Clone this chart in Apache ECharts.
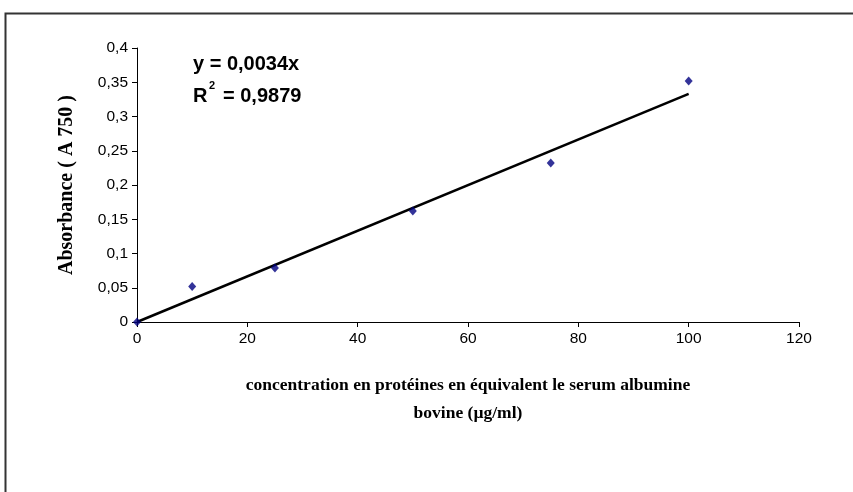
<!DOCTYPE html>
<html>
<head>
<meta charset="utf-8">
<script src="https://cdn.jsdelivr.net/npm/echarts@6/dist/echarts.min.js"></script>
<style>
  html, body { margin: 0; padding: 0; background: #fff; }
  #chart { width: 853px; height: 492px; }
</style>
</head>
<body>
<div id="chart"></div>
<script>
// measured points
var concX = [0, 10, 25, 50, 75, 100];
var absY = [0, 0.052, 0.079, 0.162, 0.232, 0.352];
// linear trendline endpoints (through origin)
var trendX = [0, 100];
var trendY = [0, 0.333];

var fmtComma = function (v) {
    return String(v).replace('.', ',');
};

var chart = echarts.init(document.getElementById('chart'));
var option = {
    backgroundColor: '#fff',
    animation: false,
    grid: { left: 137, right: 54, top: 48, bottom: 170 },
    xAxis: {
        type: 'value',
        min: 0, max: 120, interval: 20,
        name: 'concentration en protéines en équivalent le serum albumine\nbovine (µg/ml)',
        nameLocation: 'middle',
        nameGap: 49,
        nameTextStyle: {
            fontFamily: 'Liberation Serif', fontWeight: 'bold', fontSize: 17.5,
            color: '#000', lineHeight: 28, verticalAlign: 'top'
        },
        axisLine: { lineStyle: { color: '#000', width: 1 } },
        axisTick: { show: true, inside: false, length: 5, lineStyle: { color: '#000' } },
        axisLabel: { color: '#000', fontFamily: 'Liberation Sans', fontSize: 15.5, margin: 9 },
        splitLine: { show: false }
    },
    yAxis: {
        type: 'value',
        min: 0, max: 0.4, interval: 0.05,
        name: 'Absorbance ( A 750 )',
        nameLocation: 'middle',
        nameGap: 60,
        nameTextStyle: {
            fontFamily: 'Liberation Serif', fontWeight: 'bold', fontSize: 20, color: '#000'
        },
        axisLine: { show: true, lineStyle: { color: '#000', width: 1 } },
        axisTick: { show: true, inside: false, length: 5, lineStyle: { color: '#000' } },
        axisLabel: {
            color: '#000', fontFamily: 'Liberation Sans', fontSize: 15.5, margin: 9,
            formatter: fmtComma
        },
        splitLine: { show: false }
    },
    series: [
        {
            type: 'line',
            data: trendX.map(function (x, i) { return [x, trendY[i]]; }),
            symbol: 'none',
            lineStyle: { color: '#000', width: 2.5 },
            z: 2
        },
        {
            type: 'scatter',
            data: concX.map(function (x, i) { return [x, absY[i]]; }),
            symbol: 'diamond',
            symbolSize: [8, 9],
            itemStyle: { color: '#000080' },
            z: 3
        }
    ],
    graphic: [
        {
            type: 'rect',
            shape: { x: 5.5, y: 13.5, width: 900, height: 600 },
            style: { fill: 'none', stroke: '#333', lineWidth: 2 },
            silent: true
        },
        {
            type: 'text', left: 193, top: 54,
            style: { text: 'y = 0,0034x', fontFamily: 'Liberation Sans', fontWeight: 'bold', fontSize: 20, fill: '#000' }
        },
        {
            type: 'text', left: 193, top: 86,
            style: { text: 'R', fontFamily: 'Liberation Sans', fontWeight: 'bold', fontSize: 20, fill: '#000' }
        },
        {
            type: 'text', left: 209, top: 80,
            style: { text: '2', fontFamily: 'Liberation Sans', fontWeight: 'bold', fontSize: 11, fill: '#000' }
        },
        {
            type: 'text', left: 223, top: 86,
            style: { text: '= 0,9879', fontFamily: 'Liberation Sans', fontWeight: 'bold', fontSize: 20, fill: '#000' }
        }
    ]
};
chart.setOption(option);
</script>
</body>
</html>
